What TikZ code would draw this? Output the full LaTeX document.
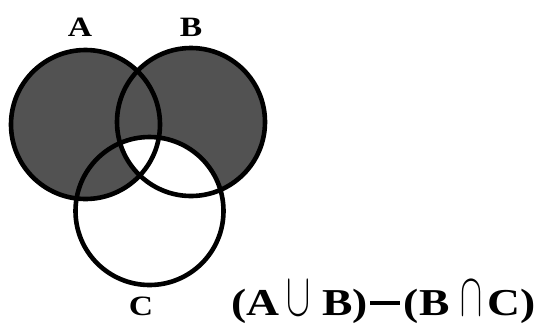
\documentclass[tikz,border=0pt]{standalone}
\usepackage{fontspec}
\setmainfont{Liberation Serif}
\usetikzlibrary{positioning}
\newcommand\widetext[1]{\scalebox{1.2}[1]{#1}}
\begin{document}
\begin{tikzpicture}[x=1pt,y=-1pt,
  setline/.style={line width=4.6pt},
  setfill/.style={fill=black!68},
  setlabel/.style={font=\fontsize{28}{28}\selectfont\bfseries},
  formula/.style={font=\fontsize{38}{38}\selectfont\bfseries, inner sep=0pt}]
  \useasboundingbox (0,0) rectangle (537,325);
  % shaded part: A or B, then B and C cut out
  \fill[setfill] (85.5,124.5) circle[radius=74.5] (191,122) circle[radius=74];
  \begin{scope}
    \clip (191,122) circle[radius=74];
    \fill[white] (149.5,211) circle[radius=74];
  \end{scope}
  \draw[setline] (85.5,124.5) circle[radius=74.5];
  \draw[setline] (191,122) circle[radius=74];
  \draw[setline] (149.5,211) circle[radius=74];

  \node[setlabel] (la) at (80,27.5) {\widetext{A}};
  \node[setlabel] (lb) at (191,27.5) {\widetext{B}};
  \node[setlabel] (lc) at (141,306) {\widetext{C}};
  \node[formula, anchor=base west] (expr) at (231,315)
    {\widetext{(A}\hspace{7pt}\resizebox{24pt}{34pt}{$\cup$}\hspace{12pt}%
     \widetext{B)}\hspace{2pt}\rule[10pt]{30pt}{4pt}\hspace{4pt}%
     \widetext{(B}\hspace{11pt}\resizebox{22pt}{34pt}{$\cap$}\hspace{5pt}%
     \widetext{C)}};
\end{tikzpicture}
\end{document}
